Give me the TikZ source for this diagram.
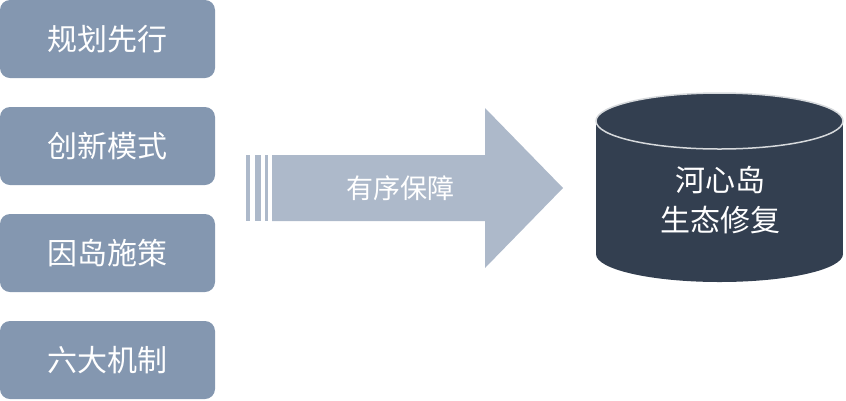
\documentclass[tikz,border=0pt]{standalone}
\usepackage{fontspec}
\newfontfamily\cjk{Noto Sans CJK SC}
\definecolor{boxc}{HTML}{8497B0}
\definecolor{arrc}{HTML}{ADB9CA}
\definecolor{cylc}{HTML}{333F50}
\begin{document}
\begin{tikzpicture}[x=1pt,y=-1pt,
  lbox/.style={fill=boxc,rounded corners=10pt,minimum width=215pt,minimum height=78pt,inner sep=0pt,text=white,font=\cjk\fontsize{30}{36}\selectfont}]
\useasboundingbox (0,0) rectangle (846,400);
\node[lbox] (a) at (107.5,39) {规划先行};
\node[lbox] (b) at (107.5,146) {创新模式};
\node[lbox] (c) at (107.5,253) {因岛施策};
\node[lbox] (d) at (107.5,360) {六大机制};
\fill[arrc] (246,155) rectangle (250,221);
\fill[arrc] (255,155) rectangle (261,221);
\fill[arrc] (265,155) rectangle (268,221);
\fill[arrc] (272,155) -- (485,155) -- (485,108) -- (563,188) -- (485,268) -- (485,221) -- (272,221) -- cycle;
\node[text=white,font=\cjk\fontsize{27}{32}\selectfont] (t) at (400,188) {有序保障};
\fill[cylc] (596,121) rectangle (843,254);
\fill[cylc] (719.5,254) ellipse[x radius=123.5,y radius=28];
\filldraw[fill=cylc,draw=white!80!cylc,line width=1.5pt] (719.5,121) ellipse[x radius=123.5,y radius=28];
\node[text=white,align=center,font=\cjk\fontsize{30}{40}\selectfont] (cyl) at (720,200) {河心岛\\生态修复};
\end{tikzpicture}
\end{document}
